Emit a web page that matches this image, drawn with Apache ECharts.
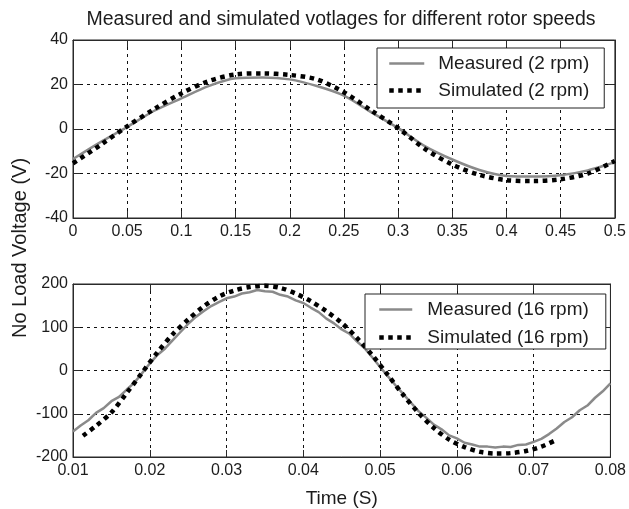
<!DOCTYPE html>
<html>
<head>
<meta charset="utf-8">
<script src="https://cdn.jsdelivr.net/npm/echarts@6/dist/echarts.min.js"></script>
<style>html,body{margin:0;padding:0;background:#fff}#c{width:629px;height:509px}</style>
</head>
<body>
<div id="c"></div>
<script>
// ---------- data ----------
const titleText = 'Measured and simulated votlages for different rotor speeds';
const yLabelText = 'No Load Voltage (V)';
const xLabelText = 'Time (S)';

const topXTicks = [0, 0.05, 0.1, 0.15, 0.2, 0.25, 0.3, 0.35, 0.4, 0.45, 0.5];
const topYTicks = [-40, -20, 0, 20, 40];
const bottomXTicks = [0.01, 0.02, 0.03, 0.04, 0.05, 0.06, 0.07, 0.08];
const bottomYTicks = [-200, -100, 0, 100, 200];

const topNames = ['Measured (2 rpm)', 'Simulated (2 rpm)'];
const bottomNames = ['Measured (16 rpm)', 'Simulated (16 rpm)'];

const topTime = [0, 0.025, 0.05, 0.075, 0.1, 0.125, 0.15, 0.175, 0.2, 0.225, 0.25, 0.275, 0.3, 0.325, 0.35, 0.375, 0.4, 0.425, 0.45, 0.475, 0.5];
const topMeasured = [-13.5, -6, 0.9, 8.2, 13.8, 19.3, 22.8, 23.2, 22.3, 19.3, 15, 7.6, 0.4, -7.8, -13.7, -18.4, -21.1, -21.4, -20.8, -18.6, -14.9];
const topSimulated = [-15.4, -7.3, 1.2, 9, 16, 21.5, 24.5, 25, 24.3, 22.3, 16.5, 8.4, 0.4, -9, -16, -20.6, -23, -23.4, -22.6, -20, -14.4];

const bottomMeasuredTime = [0.010, 0.011, 0.012, 0.013, 0.014, 0.015, 0.016, 0.017, 0.018, 0.019,
  0.020, 0.021, 0.022, 0.023, 0.024, 0.025, 0.026, 0.027, 0.028, 0.029,
  0.030, 0.031, 0.032, 0.033, 0.034, 0.035, 0.036, 0.037, 0.038, 0.039,
  0.040, 0.041, 0.042, 0.043, 0.044, 0.045, 0.046, 0.047, 0.048, 0.049,
  0.050, 0.051, 0.052, 0.053, 0.054, 0.055, 0.056, 0.057, 0.058, 0.059,
  0.060, 0.061, 0.062, 0.063, 0.064, 0.065, 0.066, 0.067, 0.068, 0.069,
  0.070, 0.071, 0.072, 0.073, 0.074, 0.075, 0.076, 0.077, 0.078, 0.079, 0.080];
const bottomMeasured = [-141, -127, -115, -98, -87, -71, -61, -44, -28, -6,
  16, 36, 51, 70, 89, 108, 124, 137, 149, 158,
  167, 171, 178, 181, 186, 183, 182, 175, 171, 162,
  156, 145, 135, 120, 109, 95, 85, 67, 51, 30,
  8, -13, -34, -54, -74, -94, -109, -125, -136, -150,
  -157, -167, -171, -176, -176, -178, -176, -177, -172, -171,
  -165, -158, -147, -134, -119, -108, -92, -81, -63, -48, -30];

const bottomSimTime = [0.0113, 0.013, 0.015, 0.017, 0.019, 0.021, 0.023, 0.025, 0.027, 0.029,
  0.031, 0.033, 0.035, 0.037, 0.039, 0.041, 0.043, 0.045, 0.047, 0.049,
  0.051, 0.053, 0.055, 0.057, 0.059, 0.061, 0.063, 0.065, 0.067, 0.069, 0.071, 0.073];
const bottomSimulated = [-151, -128, -97, -52, -5, 42, 84, 118, 148, 171,
  185, 193, 196, 191, 178, 160, 137, 110, 75, 35,
  -10, -56, -98, -133, -160, -177, -188, -192, -191, -186, -176, -160];

// ---------- chart ----------
const FONT = "'Liberation Sans', Arial, Helvetica, sans-serif";
const TXT = '#1c1c1c';
const pair = (xs, ys) => xs.map((x, i) => [x, ys[i]]);

function axisPair(kind, gridIndex, ticks, extra) {
  const base = {
    gridIndex: gridIndex,
    type: 'value',
    min: ticks[0],
    max: ticks[ticks.length - 1],
    interval: ticks[1] - ticks[0],
    axisLine: { show: true, onZero: false, lineStyle: { color: '#2a2a2a', width: 1 } },
    axisTick: { show: true, inside: true, length: 7, lineStyle: { color: '#2a2a2a', width: 1 } }
  };
  const main = Object.assign({}, base, {
    position: kind === 'x' ? 'bottom' : 'left',
    axisLabel: { show: true, fontSize: 16, color: TXT, fontFamily: FONT, margin: kind === 'x' ? 6 : 5, showMinLabel: true, showMaxLabel: true },
    splitLine: { show: true, lineStyle: { color: '#111', type: [3, 4], width: 1 } }
  }, extra || {});
  const opp = Object.assign({}, base, {
    position: kind === 'x' ? 'top' : 'right',
    axisLabel: { show: false },
    splitLine: { show: false }
  });
  return [main, opp];
}

const xAxes = [
  ...axisPair('x', 0, topXTicks),
  ...axisPair('x', 1, bottomXTicks, {
    name: xLabelText, nameLocation: 'middle', nameGap: 32,
    nameTextStyle: { fontSize: 19, color: TXT, fontFamily: FONT }
  })
];
const yAxes = [
  ...axisPair('y', 0, topYTicks),
  ...axisPair('y', 1, bottomYTicks)
];

const measuredStyle = { color: '#8a8a8a', width: 2.5 };
const simStyle = { color: '#000', width: 4.5, type: [4.5, 4.5] };

function legendCfg(names, left, top, padding, itemWidth, itemGap, textPad) {
  return {
    data: [
      { name: names[0], lineStyle: { width: measuredStyle.width, color: measuredStyle.color, type: 'solid' } },
      { name: names[1], lineStyle: { width: simStyle.width, color: simStyle.color, type: simStyle.type } }
    ],
    orient: 'vertical', left: left, top: top, padding: padding,
    itemWidth: itemWidth, itemHeight: 14, itemGap: itemGap,
    backgroundColor: '#fff', borderColor: '#222', borderWidth: 1, borderRadius: 0,
    selectedMode: false,
    itemStyle: { opacity: 0 },
    textStyle: { fontSize: 19, color: TXT, fontFamily: FONT, lineHeight: 14, padding: [0, 0, 0, textPad] }
  };
}

const option = {
  animation: false,
  backgroundColor: '#fff',
  grid: [
    { left: 73, top: 40, width: 542, height: 178, show: true, borderColor: '#2a2a2a', borderWidth: 1 },
    { left: 73, top: 284, width: 542, height: 179, show: true, borderColor: '#2a2a2a', borderWidth: 1 }
  ],
  xAxis: xAxes,
  yAxis: yAxes,
  legend: [
    legendCfg(topNames, 377, 48, [6, 15, 8, 10], 35, 8, 9),
    legendCfg(bottomNames, 365, 294, [6, 17, 2, 12], 33, 9, 10)
  ],
  graphic: [
    { type: 'text', x: 341, y: 20, z: 10,
      style: { text: titleText, fill: TXT, font: '19.5px ' + FONT, align: 'center', verticalAlign: 'middle', textAlign: 'center', textVerticalAlign: 'middle' } },
    { type: 'text', x: 20, y: 248, rotation: Math.PI / 2, z: 10,
      style: { text: yLabelText, fill: TXT, font: '20px ' + FONT, align: 'center', verticalAlign: 'middle', textAlign: 'center', textVerticalAlign: 'middle' } }
  ],
  series: [
    { name: topNames[0], type: 'line', xAxisIndex: 0, yAxisIndex: 0, data: pair(topTime, topMeasured),
      showSymbol: false, symbol: 'none', smooth: 0.3, lineStyle: measuredStyle, itemStyle: { color: measuredStyle.color } },
    { name: topNames[1], type: 'line', xAxisIndex: 0, yAxisIndex: 0, data: pair(topTime, topSimulated),
      showSymbol: false, symbol: 'none', smooth: 0.3, lineStyle: simStyle, itemStyle: { color: '#000' } },
    { name: bottomNames[0], type: 'line', xAxisIndex: 2, yAxisIndex: 2, data: pair(bottomMeasuredTime, bottomMeasured),
      showSymbol: false, symbol: 'none', lineStyle: measuredStyle, itemStyle: { color: measuredStyle.color } },
    { name: bottomNames[1], type: 'line', xAxisIndex: 2, yAxisIndex: 2, data: pair(bottomSimTime, bottomSimulated),
      showSymbol: false, symbol: 'none', smooth: 0.3, lineStyle: simStyle, itemStyle: { color: '#000' } }
  ]
};

const chart = echarts.init(document.getElementById('c'), null, { renderer: 'canvas' });
chart.setOption(option);
</script>
</body>
</html>
